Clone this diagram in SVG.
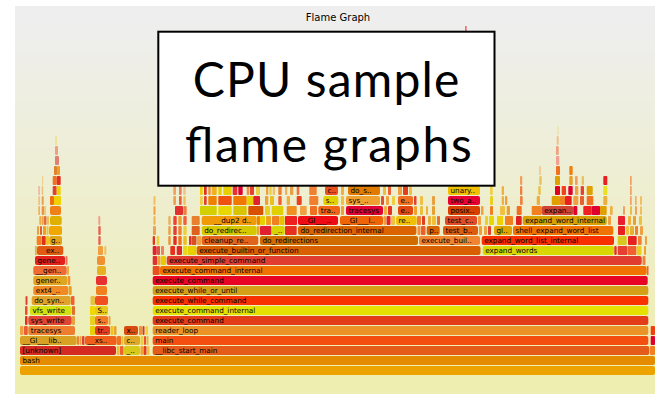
<svg xmlns="http://www.w3.org/2000/svg" width="655" height="394" viewBox="0 0 655 394">
<defs>
  <linearGradient id="bg" x1="0" y1="0" x2="0" y2="1">
    <stop offset="0.05" stop-color="#eeeeee"/>
    <stop offset="0.95" stop-color="#eeeeb0"/>
  </linearGradient>
</defs>
<style>
  text.t { font-family: "DejaVu Sans", Verdana, sans-serif; font-size: 7.25px; fill: #000; }
  .title { font-family: "DejaVu Sans", Verdana, sans-serif; font-size: 10px; fill: #000; }
  .big { font-family: Lato, "Open Sans", sans-serif; font-size: 48px; fill: #000; }
</style>

<rect x="0" y="0" width="655" height="394" fill="#ffffff"/>
<rect x="15" y="6" width="640" height="388" fill="url(#bg)"/>
<text class="title" x="338" y="21" text-anchor="middle">Flame Graph</text>

<!-- thin spike that pokes above the caption box -->
<rect x="465.3" y="26" width="1.2" height="6" fill="#e84040"/>

<g id="frames">
<!-- depth 0: root -->
<g id="row-366" transform="translate(0,366)">
  <rect x="20" width="635" height="9" rx="2" fill="#eca300"/>
</g>
<!-- depth 1 -->
<g id="row-356" transform="translate(0,356)">
  <g id="f-bash"><rect x="20" width="635" height="9" rx="2" fill="#e48b00"/><text class="t" x="22.5" y="7.3">bash</text></g>
</g>
<!-- depth 2 -->
<g id="row-346" transform="translate(0,346)">
  <g id="f-unknown"><rect x="20" width="96" height="9" rx="2" fill="#d42a22"/><text class="t" x="22.5" y="7.3">[unknown]</text></g>
  <rect x="116.7" width="3" height="9" rx="1" fill="#e8c040"/>
  <rect x="120" width="3.5" height="9" rx="1" fill="#f06030"/>
  <g id="f-us-346"><rect x="124" width="16" height="9" rx="2" fill="#d8c818"/><text class="t" x="126.5" y="7.3">_..</text></g>
  <rect x="140.5" width="2.5" height="9" rx="1" fill="#f0a030"/>
  <rect x="143.5" width="3" height="9" rx="1" fill="#e04020"/>
  <rect x="147" width="2.5" height="9" rx="1" fill="#f0c040"/>
  <g id="f-libc"><rect x="152.7" width="496.6" height="9" rx="2" fill="#e55c1a"/><text class="t" x="155.2" y="7.3">__libc_start_main</text></g>
  <rect x="650" width="5" height="9" rx="1" fill="#f08020"/>
</g>
<!-- depth 3 -->
<g id="row-336" transform="translate(0,336)">
  <g id="f-gi-lib"><rect x="20" width="56.7" height="9" rx="2" fill="#d9a124"/><text class="t" x="22.5" y="7.3">__GI___lib..</text></g>
  <rect x="77" width="2" height="9" rx="1" fill="#f08030"/>
  <rect x="79.5" width="2" height="9" rx="1" fill="#e8a040"/>
  <rect x="82" width="2.5" height="9" rx="1" fill="#e04030"/>
  <g id="f-xs"><rect x="85" width="31.7" height="9" rx="2" fill="#f0601a"/><text class="t" x="87.5" y="7.3">__xs..</text></g>
  <rect x="117" width="4" height="9" rx="1" fill="#f07020"/>
  <rect x="121.3" width="2.2" height="9" rx="1" fill="#e8c040"/>
  <g id="f-c-336"><rect x="124" width="16" height="9" rx="2" fill="#e0a828"/><text class="t" x="126.5" y="7.3">c..</text></g>
  <rect x="140.5" width="3" height="9" rx="1" fill="#e8d040"/>
  <rect x="144" width="2" height="9" rx="1" fill="#f05030"/>
  <rect x="146.5" width="2" height="9" rx="1" fill="#f0b040"/>
  <g id="f-main"><rect x="152.7" width="495.6" height="9" rx="2" fill="#f44e10"/><text class="t" x="155.2" y="7.3">main</text></g>
  <rect x="650.7" width="4.3" height="9" rx="1" fill="#e00030"/>
</g>
<!-- depth 4 -->
<g id="row-326" transform="translate(0,326)">
  <rect x="20" width="3.5" height="9" rx="1" fill="#f0a040"/>
  <rect x="24" width="3.8" height="9" rx="1" fill="#e86030"/>
  <g id="f-tracesys-l"><rect x="28.3" width="46.7" height="9" rx="2" fill="#ee7d30"/><text class="t" x="30.8" y="7.3">tracesys</text></g>
  <rect x="90" width="5" height="9" rx="1" fill="#e8d000"/>
  <g id="f-tr"><rect x="95" width="15" height="9" rx="2" fill="#e43c20"/><text class="t" x="97.5" y="7.3">tr..</text></g>
  <rect x="110.5" width="3" height="9" rx="1" fill="#f0c020"/>
  <rect x="114" width="2.5" height="9" rx="1" fill="#e8a030"/>
  <g id="f-x"><rect x="124" width="14" height="9" rx="2" fill="#d84a10"/><text class="t" x="126.5" y="7.3">x..</text></g>
  <rect x="139" width="3" height="9" rx="1" fill="#f09030"/>
  <rect x="142.5" width="2" height="9" rx="1" fill="#e03020"/>
  <rect x="145.5" width="2.5" height="9" rx="1" fill="#f0d040"/>
  <g id="f-reader_loop"><rect x="152.7" width="495.6" height="9" rx="2" fill="#eb9326"/><text class="t" x="155.2" y="7.3">reader_loop</text></g>
  <rect x="650.7" width="4.3" height="9" rx="1" fill="#f04010"/>
</g>
<!-- depth 5 -->
<g id="row-316" transform="translate(0,316)">
  <rect x="25" width="2.5" height="9" rx="1" fill="#e03020"/>
  <g id="f-sys_write"><rect x="28.3" width="43.4" height="9" rx="2" fill="#e04434"/><text class="t" x="30.8" y="7.3">sys_write</text></g>
  <rect x="72" width="3" height="9" rx="1" fill="#e8a040"/>
  <rect x="90" width="5" height="9" rx="1" fill="#e8d020"/>
  <g id="f-s-316"><rect x="95" width="13" height="9" rx="2" fill="#f07a28"/><text class="t" x="97.5" y="7.3">s..</text></g>
  <rect x="108.5" width="2" height="9" rx="1" fill="#f0a040"/>
  <g id="f-execute_command-316"><rect x="152.7" width="495.6" height="9" rx="2" fill="#e33c18"/><text class="t" x="155.2" y="7.3">execute_command</text></g>
</g>
<!-- depth 6 -->
<g id="row-306" transform="translate(0,306)">
  <rect x="25" width="2.5" height="9" rx="1" fill="#e85030"/>
  <g id="f-vfs_write"><rect x="30" width="41.7" height="9" rx="2" fill="#d4e010"/><text class="t" x="32.5" y="7.3">vfs_write</text></g>
  <rect x="72" width="3" height="9" rx="1" fill="#e07030"/>
  <rect x="90" width="5" height="9" rx="1" fill="#f0d800"/>
  <g id="f-S-306"><rect x="95" width="13" height="9" rx="2" fill="#e8c81a"/><text class="t" x="97.5" y="7.3">S..</text></g>
  <g id="f-execute_command_internal-306"><rect x="152.7" width="495.6" height="9" rx="2" fill="#e6e200"/><text class="t" x="155.2" y="7.3">execute_command_internal</text></g>
</g>
<!-- depth 7 -->
<g id="row-296" transform="translate(0,296)">
  <rect x="25.5" width="2" height="9" rx="1" fill="#e04030"/>
  <g id="f-do_syn"><rect x="31.7" width="39" height="9" rx="2" fill="#e0a22a"/><text class="t" x="34.2" y="7.3">do_syn..</text></g>
  <rect x="71" width="3.5" height="9" rx="1" fill="#f06030"/>
  <rect x="90.5" width="4.5" height="9" rx="1" fill="#e8c040"/>
  <rect x="95" width="13" height="9" rx="2" fill="#f05020"/>
  <g id="f-execute_while_command"><rect x="152.7" width="495.6" height="9" rx="2" fill="#f83200"/><text class="t" x="155.2" y="7.3">execute_while_command</text></g>
</g>
<!-- depth 8 -->
<g id="row-286" transform="translate(0,286)">
  <g id="f-ext4"><rect x="33.3" width="35" height="9" rx="2" fill="#ef8a24"/><text class="t" x="35.8" y="7.3">ext4_..</text></g>
  <rect x="68.7" width="3" height="9" rx="1" fill="#e8a020"/>
  <rect x="96" width="11" height="9" rx="2" fill="#f08020"/>
  <g id="f-execute_while_or_until"><rect x="152.7" width="495.6" height="9" rx="2" fill="#d4a018"/><text class="t" x="155.2" y="7.3">execute_while_or_until</text></g>
</g>
<!-- depth 9 -->
<g id="row-276" transform="translate(0,276)">
  <g id="f-gener"><rect x="33.3" width="34" height="9" rx="2" fill="#dfa51e"/><text class="t" x="35.8" y="7.3">gener..</text></g>
  <rect x="67.7" width="2.6" height="9" rx="1" fill="#f09030"/>
  <rect x="96" width="11" height="9" rx="2" fill="#e83030"/>
  <g id="f-execute_command-276"><rect x="152.7" width="495" height="9" rx="2" fill="#e80424"/><text class="t" x="155.2" y="7.3">execute_command</text></g>
</g>
<!-- depth 10 -->
<g id="row-266" transform="translate(0,266)">
  <g id="f-gen2"><rect x="33.3" width="33.4" height="9" rx="2" fill="#f06a34"/><text class="t" x="35.8" y="7.3">__gen..</text></g>
  <rect x="67" width="2" height="9" rx="1" fill="#e8b040"/>
  <rect x="97" width="9" height="9" rx="2" fill="#e8b020"/>
  <rect x="152.7" width="7" height="9" rx="1" fill="#e85020"/>
  <g id="f-execute_command_internal-266"><rect x="160" width="486.7" height="9" rx="2" fill="#f07200"/><text class="t" x="162.5" y="7.3">execute_command_internal</text></g>
  <rect x="647" width="1.5" height="9" rx="0.5" fill="#f06040"/>
</g>
<!-- depth 11 -->
<g id="row-256" transform="translate(0,256)">
  <g id="f-gene"><rect x="35" width="30" height="9" rx="2" fill="#e2201c"/><text class="t" x="37.5" y="7.3">gene..</text></g>
  <rect x="65.5" width="2" height="9" rx="1" fill="#f07050"/>
  <rect x="97" width="8" height="9" rx="2" fill="#f09030"/>
  <rect x="152.7" width="4.5" height="9" rx="1" fill="#e03030"/>
  <rect x="157.5" width="3" height="9" rx="1" fill="#f0a030"/>
  <rect x="161" width="5" height="9" rx="1" fill="#e8c800"/>
  <g id="f-execute_simple_command"><rect x="166.7" width="475" height="9" rx="2" fill="#e03c30"/><text class="t" x="169.2" y="7.3">execute_simple_command</text></g>
  <rect x="642.5" width="3" height="9" rx="1" fill="#f08040"/>
</g>
<!-- depth 12 -->
<g id="row-246" transform="translate(0,246)">
  <rect x="35.2" width="1.5" height="9" rx="0.5" fill="#e0a030"/>
  <g id="f-ex"><rect x="37" width="26.3" height="9" rx="2" fill="#e05a12"/><text class="t" x="46" y="7.3">ex..</text></g>
  <rect x="98" width="5" height="9" rx="1" fill="#f0a040"/>
  <rect x="104.3" width="2" height="9" rx="1" fill="#f0c060"/>
  <rect x="152.7" width="4" height="9" rx="1" fill="#e02030"/>
  <rect x="157" width="3" height="9" rx="1" fill="#e05040"/>
  <rect x="161" width="3" height="9" rx="1" fill="#f08060"/>
  <rect x="170.3" width="4.7" height="9" rx="1" fill="#e83020"/>
  <rect x="176.7" width="5.3" height="9" rx="1" fill="#e02828"/>
  <rect x="183" width="4.6" height="9" rx="1" fill="#e8d818"/>
  <rect x="188" width="8.4" height="9" rx="1" fill="#e8d000"/>
  <g id="f-execute_builtin_or_function"><rect x="196.7" width="283.8" height="9" rx="2" fill="#d86000"/><text class="t" x="199.2" y="7.3">execute_builtin_or_function</text></g>
  <g id="f-expand_words"><rect x="482.7" width="131.3" height="9" rx="2" fill="#d8d800"/><text class="t" x="485.2" y="7.3">expand_words</text></g>
  <rect x="614.3" width="2.4" height="9" rx="1" fill="#e83020"/>
  <rect x="617.7" width="9.7" height="9" rx="1" fill="#e84030"/>
  <rect x="627.7" width="8.7" height="9" rx="1" fill="#f06030"/>
  <rect x="636.7" width="4.8" height="9" rx="1" fill="#e8d020"/>
  <rect x="644" width="2" height="9" rx="1" fill="#f0a030"/>
</g>
<!-- depth 13 -->
<g id="row-236" transform="translate(0,236)">
  <rect x="36.7" width="4.6" height="9" rx="1" fill="#f08020"/>
  <rect x="41.7" width="4" height="9" rx="1" fill="#e03020"/>
  <rect x="46" width="3" height="9" rx="1" fill="#f0c020"/>
  <g id="f-g"><rect x="49.3" width="12.7" height="9" rx="2" fill="#e0a418"/><text class="t" x="51" y="7.3">g..</text></g>
  <rect x="98.3" width="2.4" height="9" rx="1" fill="#e86050"/>
  <rect x="152.7" width="2.3" height="9" rx="1" fill="#e83020"/>
  <rect x="156.7" width="2.6" height="9" rx="1" fill="#e8d040"/>
  <rect x="168.3" width="2.4" height="9" rx="1" fill="#f09030"/>
  <rect x="173.3" width="3.4" height="9" rx="1" fill="#e03020"/>
  <rect x="178.3" width="3.4" height="9" rx="1" fill="#f07020"/>
  <rect x="183.3" width="3.4" height="9" rx="1" fill="#e8c020"/>
  <rect x="189" width="2.5" height="9" rx="1" fill="#e03030"/>
  <rect x="191.7" width="4.8" height="9" rx="1" fill="#d85020"/>
  <rect x="197" width="4.3" height="9" rx="1" fill="#f0a040"/>
  <g id="f-cleanup_re"><rect x="201.7" width="56.6" height="9" rx="2" fill="#e0641c"/><text class="t" x="204.2" y="7.3">cleanup_re..</text></g>
  <g id="f-do_redirections"><rect x="260" width="158" height="9" rx="2" fill="#d06c00"/><text class="t" x="262.5" y="7.3">do_redirections</text></g>
  <g id="f-execute_buil"><rect x="419" width="61" height="9" rx="2" fill="#f08430"/><text class="t" x="421.5" y="7.3">execute_buil..</text></g>
  <g id="f-expand_word_list_internal"><rect x="481.7" width="132.3" height="9" rx="2" fill="#f83000"/><text class="t" x="484.2" y="7.3">expand_word_list_internal</text></g>
  <rect x="617.7" width="9" height="9" rx="1" fill="#d8c820"/>
  <rect x="628" width="8.7" height="9" rx="1" fill="#e82020"/>
  <rect x="638" width="3.7" height="9" rx="1" fill="#f08030"/>
  <rect x="645" width="2" height="9" rx="1" fill="#f0a040"/>
</g>
<!-- depth 14 -->
<g id="row-226" transform="translate(0,226)">
  <rect x="37" width="2" height="9" rx="1" fill="#e8a040"/>
  <rect x="40" width="2" height="9" rx="1" fill="#e06030"/>
  <rect x="43" width="3" height="9" rx="1" fill="#f0a020"/>
  <rect x="46.5" width="2" height="9" rx="1" fill="#f0c040"/>
  <rect x="49" width="13" height="9" rx="2" fill="#f0a800"/>
  <rect x="98.3" width="2.4" height="9" rx="1" fill="#e86050"/>
  <rect x="153" width="3" height="9" rx="1" fill="#f0a050"/>
  <rect x="168.3" width="2.4" height="9" rx="1" fill="#e8a040"/>
  <rect x="173.3" width="3.4" height="9" rx="1" fill="#e04030"/>
  <rect x="178.3" width="3.4" height="9" rx="1" fill="#f08030"/>
  <rect x="183.3" width="3.4" height="9" rx="1" fill="#e8d040"/>
  <rect x="191.7" width="8" height="9" rx="1" fill="#e06020"/>
  <g id="f-do_redirec"><rect x="201.7" width="55" height="9" rx="2" fill="#d6c800"/><text class="t" x="204.2" y="7.3">do_redirec..</text></g>
  <rect x="257" width="2.5" height="9" rx="1" fill="#f0a030"/>
  <rect x="260" width="11.4" height="9" rx="1" fill="#e02030"/>
  <g id="f-us-226"><rect x="271.7" width="13" height="9" rx="2" fill="#d8d400"/><text class="t" x="274.2" y="7.3">_..</text></g>
  <rect x="285" width="11.7" height="9" rx="1" fill="#e83020"/>
  <g id="f-do_redirection_internal"><rect x="298" width="118.4" height="9" rx="2" fill="#dc6400"/><text class="t" x="300.5" y="7.3">do_redirection_internal</text></g>
  <rect x="417.5" width="3" height="9" rx="1" fill="#f09040"/>
  <rect x="421" width="4.5" height="9" rx="1" fill="#e86030"/>
  <g id="f-p"><rect x="426.7" width="13" height="9" rx="2" fill="#d86400"/><text class="t" x="429.2" y="7.3">p..</text></g>
  <g id="f-test_b"><rect x="443" width="35" height="9" rx="2" fill="#dc5c10"/><text class="t" x="445.5" y="7.3">test_b..</text></g>
  <rect x="479" width="3" height="9" rx="1" fill="#f0a030"/>
  <rect x="484" width="3" height="9" rx="1" fill="#f0a040"/>
  <rect x="488" width="3" height="9" rx="1" fill="#e04030"/>
  <g id="f-gl"><rect x="494" width="18" height="9" rx="2" fill="#e0a400"/><text class="t" x="496.5" y="7.3">gl..</text></g>
  <g id="f-shell_expand_word_list"><rect x="513" width="100.3" height="9" rx="2" fill="#f07200"/><text class="t" x="515.5" y="7.3">shell_expand_word_list</text></g>
  <rect x="618" width="7" height="9" rx="1" fill="#e82020"/>
  <rect x="626" width="3" height="9" rx="1" fill="#f0c040"/>
  <rect x="630" width="4" height="9" rx="1" fill="#e8b030"/>
  <rect x="635" width="3" height="9" rx="1" fill="#f08030"/>
  <rect x="640" width="3" height="9" rx="1" fill="#f0a040"/>
</g>
<!-- depth 15 -->
<g id="row-216" transform="translate(0,216)">
  <rect x="39.3" width="2" height="9" rx="1" fill="#e8b040"/>
  <rect x="41.7" width="2" height="9" rx="1" fill="#f0a050"/>
  <rect x="44" width="2.5" height="9" rx="1" fill="#e07030"/>
  <rect x="47" width="2" height="9" rx="1" fill="#f0c060"/>
  <rect x="50" width="11.7" height="9" rx="2" fill="#e0b000"/>
  <rect x="98.3" width="2" height="9" rx="1" fill="#f0a090"/>
  <rect x="153.5" width="2" height="9" rx="1" fill="#f0b050"/>
  <rect x="168.3" width="2.4" height="9" rx="1" fill="#e8b060"/>
  <rect x="173.3" width="3.4" height="9" rx="1" fill="#f04030"/>
  <rect x="178.3" width="3.4" height="9" rx="1" fill="#e8a030"/>
  <rect x="183.3" width="3.4" height="9" rx="1" fill="#f06040"/>
  <rect x="191.7" width="8" height="9" rx="1" fill="#e88030"/>
  <g id="f-dup2"><rect x="201.7" width="55" height="9" rx="2" fill="#f09a08"/><text class="t" x="214" y="7.3">__dup2 d..</text></g>
  <rect x="257" width="3" height="9" rx="1" fill="#f08000"/>
  <rect x="260" width="5" height="9" rx="1" fill="#e8d000"/>
  <rect x="266" width="5" height="9" rx="1" fill="#f0a020"/>
  <rect x="272" width="7.5" height="9" rx="1" fill="#f08020"/>
  <rect x="280" width="4.5" height="9" rx="1" fill="#e8c000"/>
  <rect x="285" width="12" height="9" rx="1" fill="#f02020"/>
  <g id="f-gi-1"><rect x="298" width="40" height="9" rx="2" fill="#f00a14"/><text class="t" x="300.5" y="7.3">__GI___..</text></g>
  <g id="f-gi-2"><rect x="340" width="43" height="9" rx="2" fill="#f06408"/><text class="t" x="342.5" y="7.3">__GI___l..</text></g>
  <rect x="383.5" width="2.5" height="9" rx="1" fill="#f0a030"/>
  <rect x="386.5" width="4" height="9" rx="1" fill="#e82020"/>
  <rect x="391" width="4" height="9" rx="1" fill="#f0c040"/>
  <g id="f-re"><rect x="396" width="20.7" height="9" rx="2" fill="#f0c008"/><text class="t" x="398.5" y="7.3">re..</text></g>
  <rect x="417" width="4" height="9" rx="1" fill="#f08030"/>
  <rect x="422" width="3" height="9" rx="1" fill="#e04020"/>
  <rect x="428" width="3" height="9" rx="1" fill="#e8b040"/>
  <rect x="432" width="4" height="9" rx="1" fill="#f0c030"/>
  <rect x="437" width="3" height="9" rx="1" fill="#e07030"/>
  <g id="f-test_c"><rect x="445" width="32" height="9" rx="2" fill="#e04c28"/><text class="t" x="447.5" y="7.3">test_c..</text></g>
  <rect x="478" width="3" height="9" rx="1" fill="#f0a040"/>
  <rect x="485" width="3" height="9" rx="1" fill="#e8d030"/>
  <rect x="489" width="5" height="9" rx="1" fill="#e8d800"/>
  <rect x="497" width="6" height="9" rx="1" fill="#f0d000"/>
  <rect x="505" width="8" height="9" rx="1" fill="#f08020"/>
  <rect x="516" width="5.7" height="9" rx="1" fill="#e02020"/>
  <g id="f-expand_word_internal"><rect x="522.7" width="84" height="9" rx="2" fill="#d8a000"/><text class="t" x="525.2" y="7.3">expand_word_internal</text></g>
  <rect x="608" width="3" height="9" rx="1" fill="#f0a040"/>
  <rect x="618" width="7" height="9" rx="1" fill="#e82030"/>
  <rect x="628" width="3" height="9" rx="1" fill="#f0b040"/>
  <rect x="633" width="3" height="9" rx="1" fill="#e8a030"/>
  <rect x="639" width="3" height="9" rx="1" fill="#f0c040"/>
</g>
<!-- depth 16 -->
<g id="row-206" transform="translate(0,206)">
  <rect x="38.3" width="1.7" height="9" rx="0.5" fill="#f0b060"/>
  <rect x="41.7" width="2.3" height="9" rx="1" fill="#f09040"/>
  <rect x="44.3" width="1.5" height="9" rx="0.5" fill="#f0c060"/>
  <rect x="50" width="11" height="9" rx="2" fill="#f08018"/>
  <rect x="153.5" width="2" height="9" rx="1" fill="#f0a040"/>
  <rect x="175" width="8" height="9" rx="1" fill="#e03030"/>
  <rect x="183.3" width="3.4" height="9" rx="1" fill="#f08040"/>
  <rect x="200" width="16.7" height="9" rx="1" fill="#d4d000"/>
  <rect x="218.3" width="13.4" height="9" rx="1" fill="#e8d800"/>
  <rect x="233.3" width="13.4" height="9" rx="1" fill="#d8c400"/>
  <rect x="248.3" width="15" height="9" rx="1" fill="#d85000"/>
  <rect x="265" width="5" height="9" rx="1" fill="#e8d020"/>
  <rect x="271.7" width="11.6" height="9" rx="1" fill="#e0d000"/>
  <rect x="286.7" width="10" height="9" rx="1" fill="#f09020"/>
  <rect x="300" width="6.7" height="9" rx="1" fill="#f0a040"/>
  <rect x="310" width="7" height="9" rx="1" fill="#f07020"/>
  <g id="f-tra"><rect x="318.3" width="21.7" height="9" rx="2" fill="#f06418"/><text class="t" x="320.8" y="7.3">tra..</text></g>
  <rect x="341" width="3" height="9" rx="1" fill="#f0a030"/>
  <g id="f-tracesys-m"><rect x="346" width="37" height="9" rx="2" fill="#e00034"/><text class="t" x="348.5" y="7.3">tracesys</text></g>
  <rect x="384" width="3" height="9" rx="1" fill="#f0b040"/>
  <rect x="388" width="4" height="9" rx="1" fill="#e83020"/>
  <g id="f-e-206"><rect x="398" width="15" height="9" rx="2" fill="#e04810"/><text class="t" x="400.5" y="7.3">e..</text></g>
  <rect x="414" width="3" height="9" rx="1" fill="#f0a030"/>
  <rect x="420" width="3" height="9" rx="1" fill="#e8c040"/>
  <rect x="426" width="2" height="9" rx="1" fill="#f0b040"/>
  <rect x="432" width="3" height="9" rx="1" fill="#e8a030"/>
  <g id="f-posix"><rect x="448" width="32" height="9" rx="2" fill="#d84000"/><text class="t" x="450.5" y="7.3">posix..</text></g>
  <rect x="481" width="2.5" height="9" rx="1" fill="#f0a040"/>
  <rect x="490" width="3" height="9" rx="1" fill="#f08020"/>
  <rect x="500" width="5" height="9" rx="1" fill="#f0c040"/>
  <rect x="506.7" width="3.3" height="9" rx="1" fill="#e8a030"/>
  <rect x="516.7" width="5" height="9" rx="1" fill="#f07020"/>
  <rect x="531.7" width="10" height="9" rx="1" fill="#f08020"/>
  <g id="f-expan"><rect x="541.7" width="31.6" height="9" rx="2" fill="#d04434"/><text class="t" x="544.2" y="7.3">expan..</text></g>
  <rect x="573.3" width="4" height="9" rx="1" fill="#e00030"/>
  <rect x="583.3" width="8.4" height="9" rx="1" fill="#f02020"/>
  <rect x="591.7" width="8.3" height="9" rx="1" fill="#e00030"/>
  <rect x="600" width="6.7" height="9" rx="1" fill="#e0a000"/>
  <rect x="610" width="2.7" height="9" rx="1" fill="#f0b040"/>
  <rect x="623" width="2" height="9" rx="1" fill="#f0a060"/>
  <rect x="630" width="2" height="9" rx="1" fill="#e8c040"/>
  <rect x="635" width="2" height="9" rx="1" fill="#f0a060"/>
  <rect x="640" width="2" height="9" rx="1" fill="#f0c060"/>
</g>
<!-- depth 17 -->
<g id="row-196" transform="translate(0,196)">
  <rect x="38.3" width="1.7" height="9" rx="0.5" fill="#f0c080"/>
  <rect x="41.7" width="2" height="9" rx="1" fill="#e8a050"/>
  <rect x="50" width="4" height="9" rx="1" fill="#f07010"/>
  <rect x="54" width="7" height="9" rx="1" fill="#f0d000"/>
  <rect x="153.5" width="2" height="9" rx="1" fill="#f0c060"/>
  <rect x="173.3" width="2.7" height="9" rx="1" fill="#f0a050"/>
  <rect x="179" width="2.7" height="9" rx="1" fill="#e86040"/>
  <rect x="183.3" width="2.4" height="9" rx="1" fill="#f0c060"/>
  <rect x="200" width="2.7" height="9" rx="1" fill="#f0d040"/>
  <rect x="204" width="2.7" height="9" rx="1" fill="#e04030"/>
  <rect x="208.3" width="8.4" height="9" rx="1" fill="#f08000"/>
  <rect x="218.3" width="13.4" height="9" rx="1" fill="#f05010"/>
  <rect x="233.3" width="13.4" height="9" rx="1" fill="#f07800"/>
  <rect x="246.7" width="6.6" height="9" rx="1" fill="#e8d000"/>
  <rect x="253.3" width="6.7" height="9" rx="1" fill="#e02030"/>
  <rect x="265" width="3.3" height="9" rx="1" fill="#f0a030"/>
  <rect x="270" width="4" height="9" rx="1" fill="#e8c020"/>
  <rect x="278.3" width="3.4" height="9" rx="1" fill="#f06030"/>
  <rect x="286.7" width="3.3" height="9" rx="1" fill="#f0b040"/>
  <rect x="296.7" width="5" height="9" rx="1" fill="#e84020"/>
  <rect x="309.3" width="9" height="9" rx="1" fill="#f08030"/>
  <g id="f-s-196"><rect x="323.3" width="15" height="9" rx="2" fill="#e0d000"/><text class="t" x="325.8" y="7.3">s..</text></g>
  <rect x="341" width="3" height="9" rx="1" fill="#f0c040"/>
  <g id="f-sys"><rect x="346" width="34" height="9" rx="2" fill="#f0a030"/><text class="t" x="348.5" y="7.3">sys_..</text></g>
  <rect x="381" width="3" height="9" rx="1" fill="#e05030"/>
  <rect x="386" width="3" height="9" rx="1" fill="#f0a040"/>
  <rect x="392" width="3" height="9" rx="1" fill="#e8d040"/>
  <g id="f-e-196"><rect x="398" width="15" height="9" rx="2" fill="#f07020"/><text class="t" x="400.5" y="7.3">e..</text></g>
  <rect x="414" width="2.5" height="9" rx="1" fill="#e04030"/>
  <rect x="420" width="3" height="9" rx="1" fill="#f0c040"/>
  <rect x="432" width="3" height="9" rx="1" fill="#e8a040"/>
  <g id="f-two_a"><rect x="448" width="32" height="9" rx="2" fill="#e80034"/><text class="t" x="450.5" y="7.3">two_a..</text></g>
  <rect x="490" width="3" height="9" rx="1" fill="#e8d020"/>
  <rect x="501.7" width="2.3" height="9" rx="1" fill="#f0b040"/>
  <rect x="505" width="2.3" height="9" rx="1" fill="#e8a040"/>
  <rect x="520" width="2.7" height="9" rx="1" fill="#f08040"/>
  <rect x="536.7" width="3.3" height="9" rx="1" fill="#e8b040"/>
  <rect x="551.7" width="8.3" height="9" rx="1" fill="#e0a000"/>
  <rect x="560" width="5" height="9" rx="1" fill="#f08020"/>
  <rect x="565" width="6.7" height="9" rx="1" fill="#e82020"/>
  <rect x="573.3" width="5" height="9" rx="1" fill="#f0a040"/>
  <rect x="580" width="4" height="9" rx="1" fill="#e86030"/>
  <rect x="586.7" width="6.6" height="9" rx="1" fill="#f07020"/>
  <rect x="603.3" width="4" height="9" rx="1" fill="#e8b040"/>
  <rect x="630" width="1.7" height="9" rx="0.5" fill="#f0a060"/>
  <rect x="635" width="1.7" height="9" rx="0.5" fill="#f0b060"/>
  <rect x="640" width="2" height="9" rx="1" fill="#f0c060"/>
</g>
<!-- depth 18 -->
<g id="row-186" transform="translate(0,186)">
  <rect x="38.3" width="1.5" height="9" rx="0.5" fill="#f0b0a0"/>
  <rect x="41.7" width="1.5" height="9" rx="0.5" fill="#f0c080"/>
  <rect x="52.7" width="4" height="9" rx="1" fill="#e04030"/>
  <rect x="56.7" width="4" height="9" rx="1" fill="#f0d000"/>
  <rect x="173.3" width="2.7" height="9" rx="1" fill="#f0a060"/>
  <rect x="179" width="2.7" height="9" rx="1" fill="#e88060"/>
  <rect x="183.3" width="2.4" height="9" rx="1" fill="#f0c090"/>
  <rect x="200" width="2.7" height="9" rx="1" fill="#f0d000"/>
  <rect x="204" width="2.7" height="9" rx="1" fill="#e03020"/>
  <rect x="208.3" width="2.4" height="9" rx="1" fill="#f09030"/>
  <rect x="211.7" width="5" height="9" rx="1" fill="#f0b020"/>
  <rect x="218.3" width="3.4" height="9" rx="1" fill="#e8d000"/>
  <rect x="223.3" width="8.4" height="9" rx="1" fill="#e8d000"/>
  <rect x="232.7" width="4.6" height="9" rx="1" fill="#e83030"/>
  <rect x="238.3" width="4.4" height="9" rx="1" fill="#e00030"/>
  <rect x="246.7" width="2.6" height="9" rx="1" fill="#f09040"/>
  <rect x="250" width="4" height="9" rx="1" fill="#e84030"/>
  <rect x="256" width="4" height="9" rx="1" fill="#e8d040"/>
  <rect x="266" width="2.3" height="9" rx="1" fill="#f0a030"/>
  <rect x="269.3" width="2.4" height="9" rx="1" fill="#e8d040"/>
  <rect x="272.7" width="2.3" height="9" rx="1" fill="#f0c060"/>
  <rect x="278.3" width="3.4" height="9" rx="1" fill="#f08030"/>
  <rect x="285" width="2.3" height="9" rx="1" fill="#f0b060"/>
  <rect x="290" width="3.3" height="9" rx="1" fill="#e8a040"/>
  <rect x="296.7" width="2.6" height="9" rx="1" fill="#f07040"/>
  <rect x="309.3" width="7.4" height="9" rx="1" fill="#f08030"/>
  <g id="f-c-186"><rect x="325" width="13" height="9" rx="2" fill="#e85020"/><text class="t" x="327.5" y="7.3">c..</text></g>
  <rect x="341" width="3" height="9" rx="1" fill="#f0b040"/>
  <g id="f-do_s"><rect x="348" width="32" height="9" rx="2" fill="#e07a00"/><text class="t" x="350.5" y="7.3">do_s..</text></g>
  <rect x="383" width="3" height="9" rx="1" fill="#e8c040"/>
  <rect x="388" width="3" height="9" rx="1" fill="#f06030"/>
  <rect x="398" width="4" height="9" rx="1" fill="#f0a040"/>
  <rect x="403" width="5" height="9" rx="1" fill="#e04020"/>
  <rect x="409" width="3" height="9" rx="1" fill="#f0c040"/>
  <g id="f-unary"><rect x="448" width="32" height="9" rx="2" fill="#f0c000"/><text class="t" x="450.5" y="7.3">unary..</text></g>
  <rect x="490" width="2.7" height="9" rx="1" fill="#f0d040"/>
  <rect x="501.7" width="2.3" height="9" rx="1" fill="#f0b040"/>
  <rect x="520" width="2.3" height="9" rx="1" fill="#f08040"/>
  <rect x="538.3" width="2.4" height="9" rx="1" fill="#e8c040"/>
  <rect x="555" width="5" height="9" rx="1" fill="#e00020"/>
  <rect x="561.7" width="4.3" height="9" rx="1" fill="#f04020"/>
  <rect x="568.3" width="4.4" height="9" rx="1" fill="#e00030"/>
  <rect x="575" width="3.3" height="9" rx="1" fill="#f0a040"/>
  <rect x="580.7" width="3.3" height="9" rx="1" fill="#e84030"/>
  <rect x="586.7" width="6" height="9" rx="1" fill="#e0a000"/>
  <rect x="603.3" width="4" height="9" rx="1" fill="#e8e020"/>
  <rect x="630" width="1.7" height="9" rx="0.5" fill="#f0a060"/>
</g>
<!-- depth 19 and up: thin spikes -->
<g id="row-176" transform="translate(0,176)">
  <rect x="42" width="1.2" height="9" rx="0.5" fill="#f0d090"/>
  <rect x="52.7" width="4" height="9" rx="1" fill="#f07020"/>
  <rect x="56.7" width="4" height="9" rx="1" fill="#e03020"/>
  <rect x="520" width="2.3" height="9" rx="1" fill="#f0a060"/>
  <rect x="539.3" width="2.4" height="9" rx="1" fill="#e8c060"/>
  <rect x="555" width="5" height="9" rx="1" fill="#e0a000"/>
  <rect x="569.3" width="3.4" height="9" rx="1" fill="#e8a020"/>
  <rect x="575" width="2.7" height="9" rx="1" fill="#f0a060"/>
  <rect x="581.7" width="2.3" height="9" rx="1" fill="#e8c060"/>
  <rect x="603.3" width="4" height="9" rx="1" fill="#e82020"/>
  <rect x="630" width="1.7" height="9" rx="0.5" fill="#f0a060"/>
</g>
<g id="row-166" transform="translate(0,166)">
  <rect x="54" width="3" height="9" rx="1" fill="#e08030"/>
  <rect x="57" width="3" height="9" rx="1" fill="#f0a020"/>
  <rect x="539.3" width="1.4" height="9" rx="0.5" fill="#f0c080"/>
  <rect x="556" width="4" height="9" rx="1" fill="#f07020"/>
  <rect x="569.3" width="3.4" height="9" rx="1" fill="#f08010"/>
</g>
<g id="row-156" transform="translate(0,156)">
  <rect x="55" width="4" height="9" rx="1" fill="#e08070"/>
  <rect x="556" width="3.3" height="9" rx="1" fill="#f0a090"/>
</g>
<g id="row-146" transform="translate(0,146)">
  <rect x="55" width="3" height="9" rx="1" fill="#f0a080"/>
  <rect x="556" width="2.7" height="9" rx="1" fill="#f0a080"/>
</g>
<g id="row-136" transform="translate(0,136)">
  <rect x="55.3" width="1.5" height="9" rx="0.5" fill="#f0e080"/>
  <rect x="556.7" width="2" height="9" rx="1" fill="#f0c090"/>
</g>
<g id="row-126" transform="translate(0,126)">
  <rect x="557.3" width="1.3" height="9" rx="0.5" fill="#f0e0a0"/>
</g>
</g>

<!-- caption box laid over the graph -->
<g id="caption">
  <rect x="158.3" y="31.7" width="336.2" height="154" fill="#ffffff" stroke="#000000" stroke-width="2"/>
  <text class="big" x="192.7" y="97.3" textLength="266.6">CPU sample</text>
  <text class="big" x="185" y="161.7" textLength="286.7">flame graphs</text>
</g>
</svg>
